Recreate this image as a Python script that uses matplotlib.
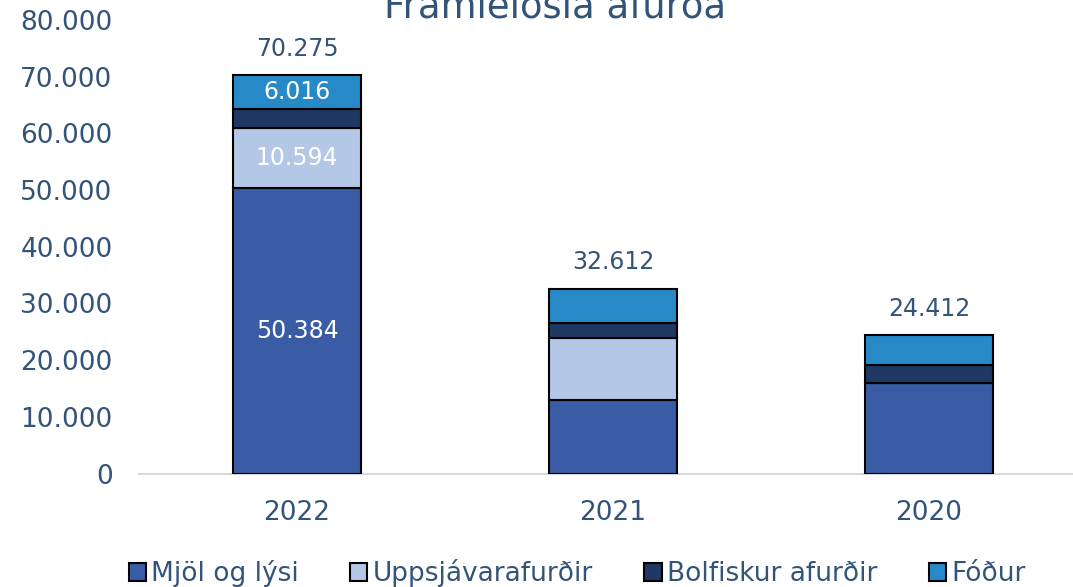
import numpy as np
import matplotlib
matplotlib.use('Agg')
import matplotlib.pyplot as plt

years = ['2022', '2021', '2020']
series = ['Mjöl og lýsi', 'Uppsjávarafurðir', 'Bolfiskur afurðir', 'Fóður']
mjol = [50384, 12930, 15940]
uppsjavar = [10594, 11010, 0]
bolfiskur = [3281, 2600, 3230]
fodur = [6016, 6072, 5242]
totals = [70275, 32612, 24412]
# which segments carry a value label (per series, per year)
show_label = [[True, False, False], [True, False, False], [False, False, False], [True, False, False]]

colors = ['#3A5CA4', '#B4C7E7', '#1F3864', '#2789C8']
txt = '#335479'

def fmt(v):
    return f'{int(round(v)):,}'.replace(',', '.')

plt.rcParams['font.family'] = ['DejaVu Sans']
fig = plt.figure(figsize=(10.73, 5.87), dpi=100)
ax = fig.add_axes([139/1073, 113.5/587, 948/1073, 453.5/587])

x = np.arange(len(years))
bottom = np.zeros(len(years))
for vals, name, c, show in zip([mjol, uppsjavar, bolfiskur, fodur], series, colors, show_label):
    vals = np.array(vals, dtype=float)
    bars = ax.bar(x, vals, 0.405, bottom=bottom, color=c, edgecolor='black', linewidth=1.5, label=name)
    for i, b in enumerate(bars):
        if show[i]:
            ax.text(b.get_x() + b.get_width()/2, bottom[i] + vals[i]/2, fmt(vals[i]),
                    ha='center', va='center', color='white', fontsize=17)
    bottom += vals

for i, t in enumerate(totals):
    ax.annotate(fmt(t), (x[i], t), xytext=(0, 19), textcoords='offset points',
                ha='center', va='center', color=txt, fontsize=17)

ax.set_xlim(-0.5, 2.5)
ax.set_ylim(0, 80000)
ax.set_yticks(np.arange(0, 80001, 10000))
ax.set_yticklabels([fmt(v) for v in np.arange(0, 80001, 10000)])
ax.set_xticks(x)
ax.set_xticklabels(years)
ax.tick_params(axis='both', length=0, labelsize=19, labelcolor=txt)
ax.tick_params(axis='y', pad=19)
ax.tick_params(axis='x', pad=19)
for s in ['top', 'right', 'left']:
    ax.spines[s].set_visible(False)
ax.spines['bottom'].set_color('#D9D9D9')
ax.spines['bottom'].set_linewidth(1.5)
ax.spines['bottom'].set_zorder(0)

fig.text(555/1073, 1 - 18/587, 'Framleiðsla afurða', ha='center', va='baseline',
         fontsize=26.6, color=txt)

leg = fig.legend(loc='center', bbox_to_anchor=(577/1073, 1 - 573/587), ncol=4, frameon=False,
                 fontsize=19, handlelength=0.65, handleheight=0.65, handletextpad=0.2,
                 columnspacing=1.95, borderaxespad=0)
for t in leg.get_texts():
    t.set_color(txt)

fig.savefig('out.png', dpi=100)
